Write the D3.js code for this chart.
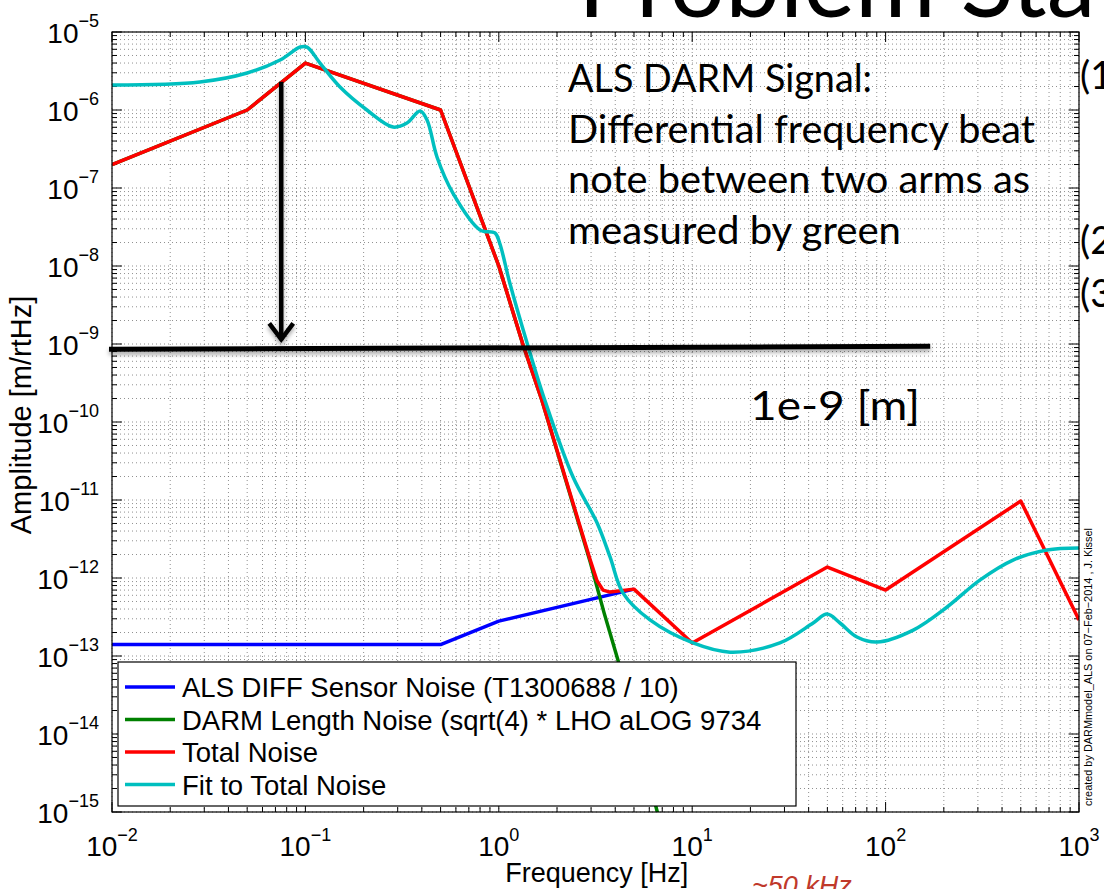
<!DOCTYPE html>
<meta charset="utf-8">
<head>
  <title>ALS DARM noise</title>
</head>
<script src="https://d3js.org/d3.v7.min.js"></script>
<style>
  body { margin: 0; background: #fff; }
  svg { display: block; }
</style>
<div id="chart"></div>
<script>

  // ---- data ----
  // ALS DIFF Sensor Noise (blue)
  var blueFreq = [0.01, 0.5, 1, 5];
  var blueAmp  = [1.4e-13, 1.4e-13, 2.8e-13, 7.2e-13];

  // DARM Length Noise (green)
  var greenFreq = [0.01, 0.05, 0.1, 0.5, 1, 1.33, 1.67, 2.97, 3.5, 4.13, 6.6, 7.5];
  var greenAmp  = [2e-7, 1e-6, 4e-6, 1e-6, 1e-8, 1e-9, 1.9e-10, 1.6e-12, 3.6e-13, 8.9e-14, 1e-15, 3e-16];

  // Total Noise (red)
  var redFreq = [0.01, 0.05, 0.1, 0.5, 1, 1.33, 1.67, 2.97, 3.22, 3.46, 3.76, 5, 10, 50, 100, 500, 1000];
  var redAmp  = [2e-7, 1e-6, 4e-6, 1e-6, 1e-8, 1.0e-9, 1.9e-10, 1.7e-12, 9.2e-13, 7.0e-13, 6.6e-13, 7.2e-13,
                 1.47e-13, 1.38e-12, 7.0e-13, 9.7e-12, 2.9e-13];

  // Fit to Total Noise (cyan)
  var cyanFreq = [0.01, 0.0285, 0.05, 0.074, 0.094, 0.102, 0.119, 0.151, 0.208, 0.284, 0.335, 0.392, 0.426,
                  0.479, 0.579, 0.80, 0.955, 1.01, 1.14, 1.40, 1.73, 2.42, 3.22, 3.76, 4.39, 6.05, 10.1, 15.7,
                  28.4, 42.2, 49.8, 58.1, 71.1, 90.3, 139, 208, 307, 456, 683, 1000];
  var cyanAmp  = [2.09e-6, 2.29e-6, 2.98e-6, 4.38e-6, 6.42e-6, 6.4e-6, 4.0e-6, 1.97e-6, 1e-6, 6.05e-7, 6.8e-7,
                  9.7e-7, 7.4e-7, 2.5e-7, 8.6e-8, 2.9e-8, 2.65e-8, 1.97e-8, 6.05e-9, 1.03e-9, 1.9e-10, 1.97e-11,
                  5.1e-12, 1.86e-12, 6.4e-13, 2.9e-13, 1.47e-13, 1.12e-13, 1.47e-13, 2.65e-13, 3.45e-13,
                  2.65e-13, 1.75e-13, 1.51e-13, 2.15e-13, 4.25e-13, 9.4e-13, 1.7e-12, 2.29e-12, 2.43e-12];

  var legendLabels = ["ALS DIFF Sensor Noise (T1300688 / 10)",
                      "DARM Length Noise (sqrt(4) * LHO aLOG 9734",
                      "Total Noise",
                      "Fit to Total Noise"];
  var xTickExp = [-2, -1, 0, 1, 2, 3];
  var yTickExp = [-15, -14, -13, -12, -11, -10, -9, -8, -7, -6, -5];

  // 1e-9 threshold line and the arrow that points at it
  var threshold = 0.88e-9;
  var arrowFreq = 0.075, arrowTop = 2.3e-6;

  var noteLines = ["ALS DARM Signal:", "Differential frequency beat",
                   "note between two arms as", "measured by green"];

  // ---- layout ----
  var W = 1104, H = 889;
  var margin = {top: 32, left: 112, right: 25, bottom: 77};
  var width = W - margin.left - margin.right,   // 967
      height = H - margin.top - margin.bottom;  // 780

  var svgRoot = d3.select("#chart").append("svg")
      .attr("width", W).attr("height", H);

  var defs = svgRoot.append("defs");
  defs.append("clipPath").attr("id", "clip")
    .append("rect").attr("width", width).attr("height", height);
  var shadow = defs.append("filter").attr("id", "shadow")
      .attr("x", "-5%").attr("y", "-50%").attr("width", "110%").attr("height", "300%");
  shadow.append("feDropShadow").attr("dx", 0).attr("dy", 3)
      .attr("stdDeviation", 2).attr("flood-color", "#000").attr("flood-opacity", 0.35);

  // big slide title, cut off at the top
  svgRoot.append("text")
    .attr("x", 578).attr("y", 17)
    .style("font-family", "Lato, 'Open Sans', sans-serif")
    .style("font-size", "98px")
    .text("Problem Statement");

  var svg = svgRoot.append("g")
      .attr("transform", "translate(" + margin.left + "," + margin.top + ")");

  var x = d3.scaleLog().domain([1e-2, 1e3]).range([0, width]);
  var y = d3.scaleLog().domain([1e-15, 1e-5]).range([height, 0]);

  // grid (dotted, MATLAB style) + ticks
  var xMinor = [], yMinor = [];
  for (var d = -2; d < 3; d++) for (var k = 1; k < 10; k++) xMinor.push(k * Math.pow(10, d));
  xMinor.push(1000);
  for (var e = -15; e < -5; e++) for (var k2 = 1; k2 < 10; k2++) yMinor.push(k2 * Math.pow(10, e));
  yMinor.push(1e-5);

  var grid = svg.append("g")
      .attr("stroke", "#000").attr("stroke-width", 0.8)
      .attr("stroke-dasharray", "1,3").attr("opacity", 0.55);
  grid.selectAll(".gx").data(xMinor).enter().append("line")
    .attr("x1", function(f) { return x(f); }).attr("x2", function(f) { return x(f); })
    .attr("y1", 0).attr("y2", height);
  grid.selectAll(".gy").data(yMinor).enter().append("line")
    .attr("y1", function(a) { return y(a); }).attr("y2", function(a) { return y(a); })
    .attr("x1", 0).attr("x2", width);

  function isMajor(v) {
    var l = Math.log10(v);
    return Math.abs(l - Math.round(l)) < 1e-6;
  }
  var ticks = svg.append("g").attr("stroke", "#000").attr("stroke-width", 1);
  xMinor.forEach(function(f) {
    var len = isMajor(f) ? 10 : 5;
    ticks.append("line").attr("x1", x(f)).attr("x2", x(f)).attr("y1", height).attr("y2", height - len);
    ticks.append("line").attr("x1", x(f)).attr("x2", x(f)).attr("y1", 0).attr("y2", len);
  });
  yMinor.forEach(function(a) {
    var len = isMajor(a) ? 10 : 5;
    ticks.append("line").attr("y1", y(a)).attr("y2", y(a)).attr("x1", 0).attr("x2", len);
    ticks.append("line").attr("y1", y(a)).attr("y2", y(a)).attr("x1", width).attr("x2", width - len);
  });

  // tick labels 10^n
  var tickFont = "'Liberation Sans', Arial, sans-serif";
  xTickExp.forEach(function(n) {
    var t = svg.append("text")
      .attr("x", x(Math.pow(10, n))).attr("y", height + 44)
      .attr("text-anchor", "middle")
      .style("font-family", tickFont).style("font-size", "28px");
    t.append("tspan").text("10");
    t.append("tspan").attr("dy", -15).style("font-size", "18px").text(n < 0 ? "\u2212" + (-n) : n);
  });
  yTickExp.forEach(function(n) {
    var t = svg.append("text")
      .attr("x", -13).attr("y", y(Math.pow(10, n)) + 11)
      .attr("text-anchor", "end")
      .style("font-family", tickFont).style("font-size", "28px");
    t.append("tspan").text("10");
    t.append("tspan").attr("dy", -16).style("font-size", "18px").text("\u2212" + (-n));
  });

  // axis labels
  svg.append("text")
    .attr("x", x(1) + 98).attr("y", height + 70)
    .attr("text-anchor", "middle")
    .style("font-family", tickFont).style("font-size", "27px")
    .text("Frequency [Hz]");
  svg.append("text")
    .attr("transform", "translate(" + (-margin.left + 31) + "," + (415 - margin.top) + ") rotate(-90)")
    .attr("text-anchor", "middle")
    .style("font-family", tickFont).style("font-size", "29px")
    .text("Amplitude [m/rtHz]");

  // curves
  function pts(fs, as) { return fs.map(function(f, i) { return [f, as[i]]; }); }
  var lineLin = d3.line()
      .x(function(p) { return x(p[0]); }).y(function(p) { return y(p[1]); });
  var lineSmooth = d3.line()
      .x(function(p) { return x(p[0]); }).y(function(p) { return y(p[1]); })
      .curve(d3.curveCatmullRom.alpha(0.5));

  var series = [
    {data: pts(blueFreq, blueAmp),   color: "#0000ff", line: lineLin},
    {data: pts(greenFreq, greenAmp), color: "#008000", line: lineLin},
    {data: pts(redFreq, redAmp),     color: "#ff0000", line: lineLin},
    {data: pts(cyanFreq, cyanAmp),   color: "#00bfbf", line: lineSmooth}
  ];
  var plot = svg.append("g").attr("clip-path", "url(#clip)");
  series.forEach(function(s) {
    plot.append("path")
      .attr("d", s.line(s.data))
      .attr("fill", "none")
      .attr("stroke", s.color)
      .attr("stroke-width", 3.5)
      .attr("stroke-linejoin", "round");
  });

  // axes box
  svg.append("rect").attr("width", width).attr("height", height)
    .attr("fill", "none").attr("stroke", "#000").attr("stroke-width", 1.2);

  // legend
  var lg = svg.append("g").attr("transform", "translate(6," + (height - 150) + ")");
  lg.append("rect").attr("width", 678).attr("height", 144)
    .attr("fill", "#fff").attr("stroke", "#000").attr("stroke-width", 1.2);
  series.forEach(function(s, i) {
    var yy = 25 + i * 32.5;
    lg.append("line").attr("x1", 7).attr("x2", 57).attr("y1", yy).attr("y2", yy)
      .attr("stroke", s.color).attr("stroke-width", 3.5);
    lg.append("text").attr("x", 64).attr("y", yy + 10)
      .style("font-family", tickFont).style("font-size", "27.5px")
      .text(legendLabels[i]);
  });

  // annotation: 1e-9 line + arrow
  var ann = svg.append("g").attr("filter", "url(#shadow)");
  ann.append("line")
    .attr("x1", -3).attr("x2", x(170))
    .attr("y1", y(threshold) + 1).attr("y2", y(threshold) - 2)
    .attr("stroke", "#000").attr("stroke-width", 5);
  ann.append("line")
    .attr("x1", x(arrowFreq)).attr("x2", x(arrowFreq))
    .attr("y1", y(arrowTop)).attr("y2", y(threshold) - 8)
    .attr("stroke", "#000").attr("stroke-width", 4.5);
  ann.append("path")
    .attr("d", "M" + (x(arrowFreq) - 12) + "," + (y(threshold) - 25) +
               "L" + x(arrowFreq) + "," + (y(threshold) - 9) +
               "L" + (x(arrowFreq) + 12) + "," + (y(threshold) - 25))
    .attr("fill", "none").attr("stroke", "#000").attr("stroke-width", 4.5)
    .attr("stroke-linejoin", "miter");

  var calibri = "Lato, 'Open Sans', sans-serif";
  var noteWidths = [304, 467, 462, 333];
  noteLines.forEach(function(t, i) {
    svgRoot.append("text")
      .attr("x", 568).attr("y", 92 + i * 50.5)
      .attr("textLength", noteWidths[i]).attr("lengthAdjust", "spacingAndGlyphs")
      .style("font-family", calibri).style("font-size", "38px")
      .text(t);
  });
  svgRoot.append("text")
    .attr("x", 750).attr("y", 420)
    .attr("textLength", 170).attr("lengthAdjust", "spacingAndGlyphs")
    .style("font-family", calibri).style("font-size", "40px")
    .text("1e-9 [m]");

  // slide bullets cut at the right edge
  [["(1", 89], ["(2", 254], ["(3", 307]].forEach(function(b) {
    svgRoot.append("text").attr("x", 1080).attr("y", b[1])
      .style("font-family", calibri).style("font-size", "38px").text(b[0]);
  });

  // credit line
  svgRoot.append("text")
    .attr("transform", "translate(1092,806) rotate(-90)")
    .attr("textLength", 278).attr("lengthAdjust", "spacingAndGlyphs")
    .style("font-family", tickFont).style("font-size", "11px")
    .text("created by DARMmodel_ALS on 07\u2212Feb\u22122014 , J. Kissel");

  svgRoot.append("text")
    .attr("x", 752).attr("y", 895)
    .style("font-family", tickFont).style("font-size", "27px")
    .style("font-style", "italic").attr("fill", "#c0392b")
    .text("~50 kHz");

</script>
